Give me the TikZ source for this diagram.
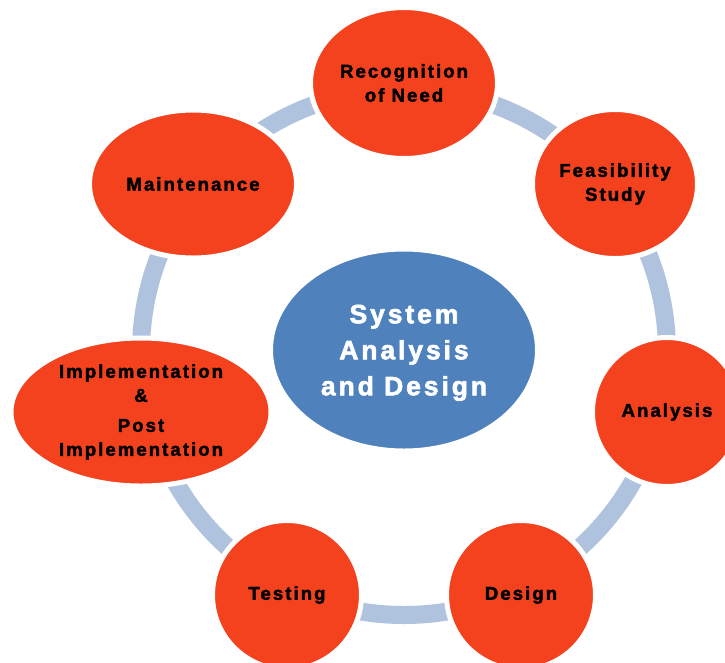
\documentclass[tikz,border=0pt]{standalone}
\usepackage{fontspec}
\setmainfont{Liberation Sans}[LetterSpace=11, BoldFeatures={FakeBold=2.2}]
\usetikzlibrary{shapes.geometric}
\definecolor{stepred}{RGB}{244,65,30}
\definecolor{hubblue}{RGB}{79,129,189}
\definecolor{ringblue}{RGB}{176,195,222}
\begin{document}
\begin{tikzpicture}[x=1pt,y=-1pt,
  stage/.style={ellipse, fill=stepred, draw=white, line width=5pt, inner sep=0pt,
    align=center, font=\fontsize{18.6}{24}\selectfont\bfseries},
  hub/.style={ellipse, fill=hubblue, draw=white, line width=3pt, inner sep=0pt,
    align=center, text=white, font=\fontsize{26.5}{36}\selectfont\bfseries}]
\useasboundingbox (0,0) rectangle (725,662);
\clip (0,0) rectangle (725,662);
\coordinate (ringc) at (404,352);
\draw[ringblue, line width=18pt] (ringc) circle[radius=263];
\node[hub, minimum width=265pt, minimum height=200pt, text depth=-4pt] (hub) at (404,350)
  {System\\Analysis\\and Design};
\node[stage, minimum width=187pt, minimum height=151pt] (rec) at (404,83)
  {Recognition\\of Need};
\node[stage, minimum width=165pt, minimum height=149pt] (feas) at (615,184)
  {Feasibility\\Study};
\node[stage, minimum width=149pt, minimum height=149pt] (ana) at (667,412)
  {Analysis};
\node[stage, minimum width=149pt, minimum height=149pt] (des) at (521,595)
  {Design};
\node[stage, minimum width=149pt, minimum height=149pt] (test) at (287,595)
  {Testing};
\node[stage, minimum width=260pt, minimum height=148pt] (impl) at (141,412)
  {Implementation\\\&\\[6pt]Post\\Implementation};
\node[stage, minimum width=207pt, minimum height=148pt] (maint) at (193,184)
  {Maintenance};
\end{tikzpicture}
\end{document}
